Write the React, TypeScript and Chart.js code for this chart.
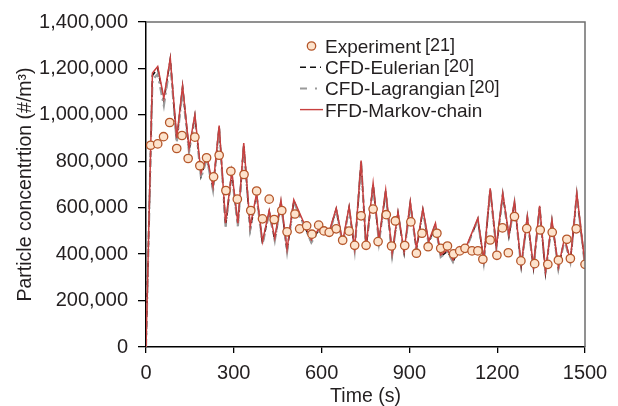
import { useEffect, useRef } from "react";
import { Chart, registerables } from "chart.js";
Chart.register(...registerables);

// Experiment [21]
const expTime = [16, 40, 60, 81, 105, 123, 144, 167, 184, 207, 231, 250, 273, 290, 312, 335, 358, 378, 398, 421, 438, 464, 482, 509, 525, 549, 567, 590, 608, 626, 650, 672, 694, 713, 735, 752, 776, 793, 821, 839, 852, 884, 905, 924, 943, 964, 994, 1007, 1030, 1051, 1072, 1090, 1114, 1134, 1151, 1176, 1199, 1218, 1238, 1259, 1281, 1301, 1328, 1347, 1373, 1388, 1409, 1438, 1450, 1470, 1500];
const expValue = [869000, 875000, 906000, 967000, 855000, 911000, 812000, 904000, 781000, 815000, 733000, 826000, 674000, 757000, 637000, 743000, 588000, 672000, 552000, 637000, 549000, 588000, 496000, 573000, 509000, 522000, 486000, 525000, 500000, 494000, 509000, 460000, 499000, 438000, 565000, 438000, 594000, 454000, 570000, 435000, 543000, 437000, 539000, 404000, 490000, 432000, 490000, 425000, 435000, 401000, 414000, 425000, 414000, 414000, 378000, 461000, 395000, 513000, 406000, 562000, 371000, 510000, 359000, 504000, 356000, 494000, 374000, 464000, 381000, 509000, 356000];

// Simulation time steps (s)
const simTime = [0, 22, 40, 61, 83, 105, 125, 147, 167, 188, 208, 229, 250, 272, 293, 314, 334, 356, 378, 398, 421, 440, 461, 482, 505, 565, 588, 608, 626, 650, 672, 694, 713, 735, 752, 776, 796, 819, 841, 861, 882, 903, 924, 946, 966, 989, 1007, 1030, 1049, 1072, 1092, 1134, 1154, 1176, 1197, 1219, 1240, 1259, 1282, 1303, 1324, 1345, 1365, 1387, 1409, 1430, 1450, 1472, 1500];
// CFD-Eulerian [20]
const eulerianValue = [0, 1170000, 1200000, 1060000, 1240000, 885000, 1120000, 845000, 995000, 735000, 818000, 680000, 950000, 520000, 750000, 522000, 872000, 505000, 655000, 445000, 583000, 460000, 625000, 412000, 630000, 452000, 500000, 503000, 492000, 594000, 446000, 600000, 418000, 798000, 425000, 700000, 452000, 672000, 396000, 577000, 404000, 620000, 418000, 590000, 446000, 528000, 390000, 413000, 368000, 428000, 420000, 550000, 368000, 680000, 425000, 657000, 476000, 622000, 346000, 557000, 340000, 603000, 318000, 542000, 337000, 465000, 368000, 657000, 352000];
// CFD-Lagrangian [20]
const lagrangianValue = [0, 1150000, 1175000, 1040000, 1225000, 880000, 1105000, 840000, 985000, 730000, 810000, 675000, 940000, 518000, 745000, 520000, 865000, 505000, 650000, 442000, 578000, 458000, 620000, 410000, 625000, 450000, 496000, 500000, 490000, 590000, 444000, 598000, 416000, 795000, 424000, 698000, 450000, 670000, 395000, 575000, 402000, 618000, 416000, 588000, 444000, 526000, 388000, 410000, 366000, 426000, 418000, 548000, 366000, 678000, 424000, 655000, 474000, 620000, 345000, 555000, 338000, 600000, 318000, 540000, 336000, 462000, 366000, 655000, 350000];
// FFD-Markov-chain
const markovValue = [0, 1180000, 1208000, 1072000, 1244000, 900000, 1125000, 856000, 1000000, 749000, 823000, 691000, 954000, 533000, 756000, 533000, 878000, 518000, 662000, 454000, 588000, 469000, 631000, 421000, 634000, 461000, 504000, 508000, 497000, 598000, 454000, 605000, 425000, 803000, 432000, 706000, 461000, 677000, 404000, 581000, 411000, 626000, 425000, 595000, 454000, 533000, 397000, 418000, 375000, 432000, 425000, 555000, 375000, 684000, 432000, 662000, 483000, 626000, 353000, 562000, 346000, 608000, 325000, 547000, 344000, 469000, 375000, 662000, 358000];

const xTicks = [0, 300, 600, 900, 1200, 1500];
const yTicks = [0, 200000, 400000, 600000, 800000, 1000000, 1200000, 1400000];

const legendItems = [
  { label: "Experiment", ref: "[21]", kind: "circle" },
  { label: "CFD-Eulerian", ref: "[20]", kind: "dash" },
  { label: "CFD-Lagrangian", ref: "[20]", kind: "dashdot" },
  { label: "FFD-Markov-chain", ref: "", kind: "line" },
];

const FONT = "'Liberation Sans', Arial, sans-serif";
const TEXT = "#231f20";
const RED = "#c8403f";
const GRAY = "#9a9a9a";
const CIRCLE_FILL = "#fde3cc";
const CIRCLE_EDGE = "#b5562a";

const pts = (t: number[], v: number[]) => t.map((x, i) => ({ x, y: v[i] }));

export default function App() {
  const ref = useRef<HTMLCanvasElement | null>(null);
  useEffect(() => {
    document.body.style.margin = "0";
    const canvas = ref.current!;
    const framePlugin = {
      id: "frame",
      afterDatasetsDraw(chart: any) {
        const { ctx, chartArea: a } = chart;
        ctx.save();
        ctx.strokeStyle = "#6e6e6e";
        ctx.lineWidth = 1.5;
        ctx.beginPath();
        ctx.moveTo(a.left, a.top);
        ctx.lineTo(a.right, a.top);
        ctx.lineTo(a.right, a.bottom);
        ctx.stroke();
        ctx.restore();
      },
    };
    const legendPlugin = {
      id: "customLegend",
      afterDraw(chart: any) {
        const ctx = chart.ctx as CanvasRenderingContext2D;
        ctx.save();
        const x0 = 300, x1 = 323, tx = 325;
        const baselines = [53, 74.2, 95.4, 116.6];
        legendItems.forEach((it, i) => {
          const by = baselines[i];
          const my = by - 7;
          ctx.lineCap = "butt";
          if (it.kind === "circle") {
            ctx.beginPath();
            ctx.arc(311.5, my, 4.2, 0, Math.PI * 2);
            ctx.fillStyle = CIRCLE_FILL;
            ctx.fill();
            ctx.lineWidth = 1.3;
            ctx.strokeStyle = CIRCLE_EDGE;
            ctx.stroke();
          } else {
            ctx.beginPath();
            if (it.kind === "dash") {
              ctx.moveTo(x0, my);
              ctx.lineTo(x1 - 2, my);
              ctx.setLineDash([6, 4]);
              ctx.strokeStyle = "#111";
              ctx.lineWidth = 1.6;
            } else if (it.kind === "dashdot") {
              ctx.moveTo(x0, my);
              ctx.lineTo(x1, my);
              ctx.setLineDash([7, 8, 2, 8]);
              ctx.strokeStyle = GRAY;
              ctx.lineWidth = 2;
            } else {
              ctx.moveTo(x0, my);
              ctx.lineTo(x1, my);
              ctx.setLineDash([]);
              ctx.strokeStyle = RED;
              ctx.lineWidth = 1.4;
            }
            ctx.stroke();
            ctx.setLineDash([]);
          }
          ctx.fillStyle = TEXT;
          ctx.textBaseline = "alphabetic";
          ctx.textAlign = "left";
          ctx.font = `19px ${FONT}`;
          ctx.fillText(it.label, tx, by);
          if (it.ref) {
            const w = ctx.measureText(it.label).width;
            ctx.font = `18px ${FONT}`;
            ctx.fillText(it.ref, tx + w + 4, by - 2.5);
          }
        });
        ctx.restore();
      },
    };
    const chart = new Chart(canvas, {
      type: "line",
      data: {
        datasets: [
          {
            label: "Experiment [21]",
            data: pts(expTime, expValue),
            showLine: false,
            pointRadius: 4.2,
            pointBackgroundColor: CIRCLE_FILL,
            pointBorderColor: CIRCLE_EDGE,
            pointBorderWidth: 1.3,
            order: 0,
          },
          {
            label: "CFD-Eulerian [20]",
            data: pts(simTime, eulerianValue),
            borderColor: "#111",
            borderWidth: 1.6,
            borderDash: [6, 4],
            pointRadius: 0,
            tension: 0,
            order: 3,
          },
          {
            label: "CFD-Lagrangian [20]",
            data: pts(simTime, lagrangianValue),
            borderColor: GRAY,
            borderWidth: 2.2,
            borderDash: [8, 4, 2, 4],
            pointRadius: 0,
            tension: 0,
            order: 2,
          },
          {
            label: "FFD-Markov-chain",
            data: pts(simTime, markovValue),
            borderColor: RED,
            borderWidth: 1.5,
            pointRadius: 0,
            tension: 0,
            order: 1,
          },
        ],
      },
      options: {
        responsive: false,
        animation: false,
        devicePixelRatio: 1,
        layout: { padding: { top: 22, right: 33, left: 0, bottom: 0 } },
        plugins: { legend: { display: false }, tooltip: { enabled: false } },
        scales: {
          x: {
            type: "linear",
            min: 0,
            max: 1500,
            afterBuildTicks: (s: any) => {
              s.ticks = xTicks.map((v) => ({ value: v }));
            },
            ticks: {
              font: { size: 20, family: FONT },
              color: TEXT,
              padding: 8,
              maxRotation: 0,
              callback: (v: any) => String(v),
            },
            grid: { drawOnChartArea: false, drawTicks: true, tickLength: 6, color: "#000", lineWidth: 1.3 },
            border: { color: "#000", width: 1.5 },
            title: { display: true, text: "Time (s)", font: { size: 19.5, family: FONT, lineHeight: 1 }, color: TEXT, padding: 0 },
            afterFit: (s: any) => {
              s.height = 59;
            },
          },
          y: {
            type: "linear",
            min: 0,
            max: 1400000,
            afterBuildTicks: (s: any) => {
              s.ticks = yTicks.map((v) => ({ value: v }));
            },
            ticks: {
              font: { size: 20, family: FONT },
              color: TEXT,
              padding: 10,
              callback: (v: any) => Number(v).toLocaleString("en-US"),
            },
            grid: { drawOnChartArea: false, drawTicks: true, tickLength: 8, color: "#000", lineWidth: 1.3 },
            border: { color: "#000", width: 1.5 },
            title: {
              display: true,
              text: "Particle concentrtion (#/m³)",
              font: { size: 19.5, family: FONT, lineHeight: 1 },
              color: TEXT,
              padding: { top: 15.5, bottom: 0 },
            },
            afterFit: (s: any) => {
              s.width = 146;
            },
          },
        },
      } as any,
      plugins: [framePlugin, legendPlugin],
    });
    return () => chart.destroy();
  }, []);
  return (
    <div style={{ width: 618, height: 406 }}>
      <canvas ref={ref} width={618} height={406} style={{ display: "block" }} />
    </div>
  );
}
